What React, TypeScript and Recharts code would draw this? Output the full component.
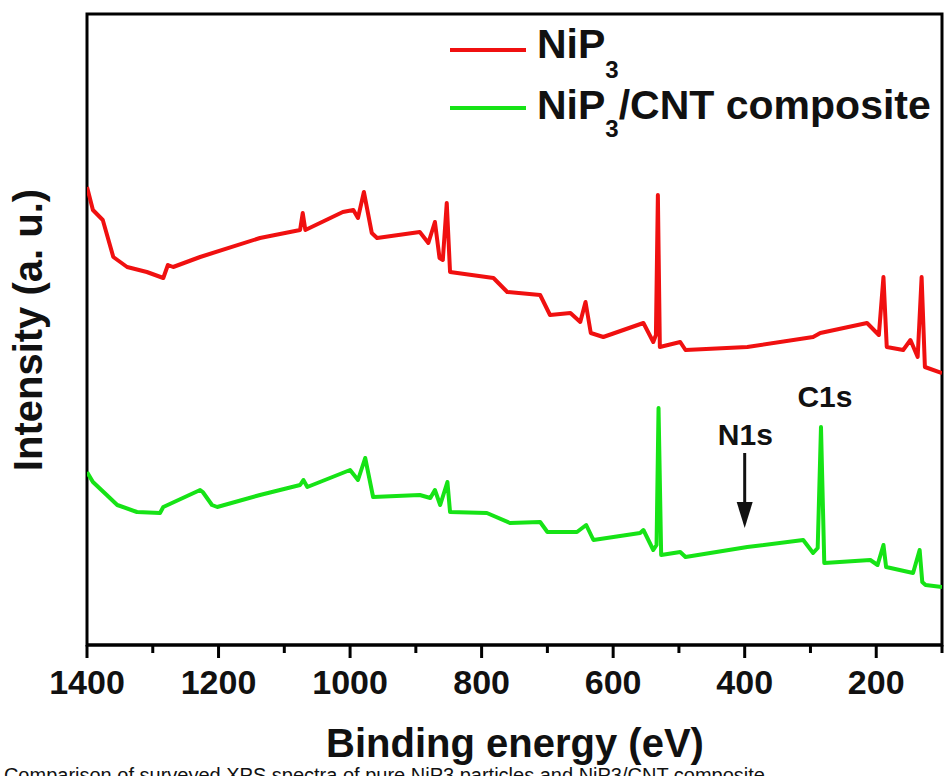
import { Legend, Line, LineChart, ReferenceArea, ReferenceDot, ReferenceLine, XAxis, YAxis } from 'recharts';

const FONT = '"Liberation Sans", Arial, Helvetica, sans-serif';

// survey spectrum of pure NiP3 (binding energy in eV, intensity in a.u.)
const NIP3_EV = [
  1400, 1391, 1376, 1360, 1339, 1309, 1284, 1277, 1269, 1228, 1137, 1076, 1072, 1068, 1011, 995, 988, 979,
  967, 959, 894, 881, 871, 864, 859, 853, 848, 782, 761, 711, 696, 665, 650, 642, 634, 615, 554, 539, 535, 532,
  529, 498, 490, 396, 296, 285, 214, 196, 189, 184, 159, 148, 137, 131, 126, 100,
];
const NIP3_INT = [
  458, 435, 425, 388, 378, 373, 367, 380, 378, 388, 407, 415, 432, 415, 433, 435, 427, 453,
  412, 407, 413, 402, 423, 387, 385, 442, 373, 367, 353, 350, 330, 332, 323, 343, 312, 308, 322, 303, 310, 450,
  298, 303, 295, 298, 308, 312, 322, 310, 368, 298, 295, 305, 288, 368, 278, 272,
];

// survey spectrum of the NiP3/CNT composite
const CNT_EV = [
  1400, 1391, 1370, 1354, 1324, 1289, 1284, 1228, 1224, 1210, 1202, 1137, 1076, 1071, 1065, 1000, 988, 977,
  965, 894, 878, 871, 863, 852, 848, 792, 757, 711, 700, 655, 641, 630, 559, 554, 539, 534, 531, 527, 498, 490,
  396, 311, 296, 289, 284, 279, 209, 198, 189, 185, 144, 134, 130, 125, 100,
];
const CNT_INT = [
  173, 163, 150, 140, 133, 132, 138, 155, 153, 140, 138, 150, 160, 165, 158, 175, 165, 187,
  148, 150, 147, 155, 140, 163, 133, 132, 122, 123, 113, 113, 120, 105, 112, 115, 95, 100, 237, 90, 93, 88,
  98, 105, 92, 97, 218, 82, 85, 80, 100, 78, 72, 95, 63, 60, 58,
];

const MAJOR_TICKS = [1400, 1200, 1000, 800, 600, 400, 200];
const MINOR_TICKS = [1300, 1100, 900, 700, 500, 300, 100];

const nip3Data = NIP3_EV.map((ev, i) => ({ ev, intensity: NIP3_INT[i] }));
const cntData = CNT_EV.map((ev, i) => ({ ev, intensity: CNT_INT[i] }));
const allTicks = [...MAJOR_TICKS, ...MINOR_TICKS].sort((a, b) => b - a);

const RED = '#f01010';
const GREEN = '#16e316';

function EnergyTick(props: any) {
  const { x, y, payload } = props;
  const major = MAJOR_TICKS.includes(payload.value);
  return (
    <g>
      <line x1={x} x2={x} y1={y} y2={y + (major ? 13 : 8)} stroke="#000" strokeWidth={3} />
      {major && (
        <text x={x} y={y + 49} textAnchor="middle" fontSize={34} fontWeight="bold" fontFamily={FONT} fill="#111">
          {payload.value}
        </text>
      )}
    </g>
  );
}

function LegendBox() {
  return (
    <svg width={505} height={140} style={{ display: 'block' }}>
      <line x1={10} x2={86} y1={36} y2={36} stroke={RED} strokeWidth={4} />
      <text x={97} y={44} fontSize={41} fontWeight="bold" fontFamily={FONT} fill="#111">
        NiP<tspan fontSize={24} dy={20}>3</tspan>
      </text>
      <line x1={10} x2={86} y1={94} y2={94} stroke={GREEN} strokeWidth={4} />
      <text x={97} y={105} fontSize={41} fontWeight="bold" fontFamily={FONT} fill="#111">
        NiP<tspan fontSize={24} dy={18}>3</tspan>
        <tspan dy={-18}>/CNT composite</tspan>
      </text>
    </svg>
  );
}

function PeakLabel(props: any) {
  return (
    <text x={props.cx} y={props.cy} textAnchor="middle" fontSize={30} fontWeight="bold" fontFamily={FONT} fill="#111">
      {props.text}
    </text>
  );
}

function DownArrow(props: any) {
  const { x1, y1, x2, y2 } = props;
  return (
    <g>
      <line x1={x1} y1={y1} x2={x2} y2={y2 - 20} stroke="#111" strokeWidth={3} />
      <polygon points={`${x2 - 8},${y2 - 26} ${x2 + 8},${y2 - 26} ${x2},${y2}`} fill="#111" />
    </g>
  );
}

export default function App() {
  return (
    <div style={{ position: 'absolute', left: 0, top: 0, width: 945, height: 776, overflow: 'hidden', background: '#fff' }}>
      <LineChart width={945} height={776} margin={{ top: 14, right: 3, bottom: 0, left: 87 }}>
        <XAxis
          type="number"
          dataKey="ev"
          domain={[100, 1400]}
          reversed
          ticks={allTicks}
          interval={0}
          height={131}
          tickSize={0}
          tickMargin={0}
          tickLine={false}
          tick={<EnergyTick />}
          axisLine={{ stroke: '#000', strokeWidth: 3 }}
          allowDataOverflow
        />
        <YAxis type="number" domain={[0, 631]} hide />
        <ReferenceArea
          x1={1400}
          x2={100}
          y1={0}
          y2={631}
          fill="none"
          fillOpacity={0}
          stroke="#000"
          strokeWidth={3}
          ifOverflow="visible"
        />
        <Line
          data={nip3Data}
          dataKey="intensity"
          name="NiP3"
          stroke={RED}
          strokeWidth={4}
          strokeLinejoin="round"
          dot={false}
          isAnimationActive={false}
        />
        <Line
          data={cntData}
          dataKey="intensity"
          name="NiP3/CNT composite"
          stroke={GREEN}
          strokeWidth={4}
          strokeLinejoin="round"
          dot={false}
          isAnimationActive={false}
        />
        <ReferenceLine
          segment={[
            { x: 400, y: 192 },
            { x: 400, y: 117 },
          ]}
          shape={<DownArrow />}
        />
        <ReferenceDot x={399} y={200} r={0} shape={<PeakLabel text="N1s" />} />
        <ReferenceDot x={278} y={238} r={0} shape={<PeakLabel text="C1s" />} />
        <Legend
          layout="horizontal"
          verticalAlign="middle"
          align="center"
          content={<LegendBox />}
          wrapperStyle={{ left: 440, top: 14, width: 505, height: 140, bottom: 'auto' }}
        />
      </LineChart>
      <svg width={945} height={776} style={{ position: 'absolute', left: 0, top: 0, pointerEvents: 'none' }}>
        <text
          x={42}
          y={330}
          transform="rotate(-90 42 330)"
          textAnchor="middle"
          fontSize={40}
          fontWeight="bold"
          fontFamily={FONT}
          fill="#111"
        >
          Intensity (a. u.)
        </text>
        <text x={515} y={757} textAnchor="middle" fontSize={40} fontWeight="bold" fontFamily={FONT} fill="#111">
          Binding energy (eV)
        </text>
        <text x={765} y={782} textAnchor="end" fontSize={20} fontFamily={FONT} fill="#111">
          Comparison of surveyed XPS spectra of pure NiP3 particles and NiP3/CNT composite
        </text>
      </svg>
    </div>
  );
}
